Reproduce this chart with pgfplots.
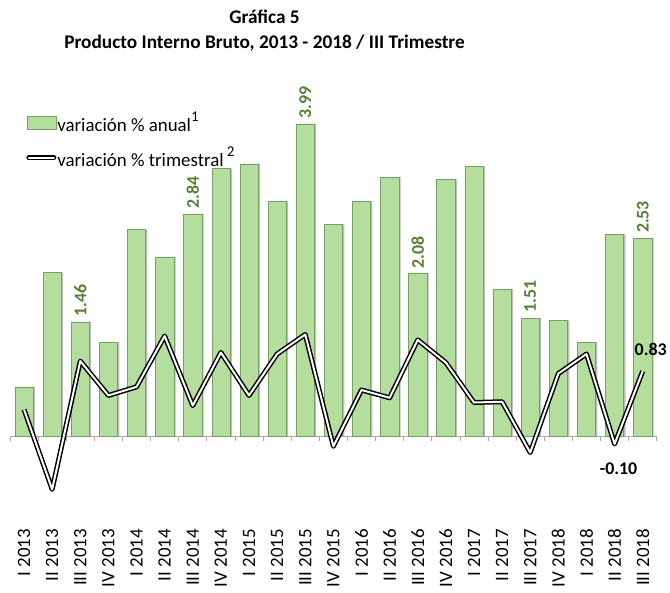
\documentclass[border=0pt]{standalone}
\usepackage{fontspec}
\setmainfont{Carlito}
\usepackage{pgfplots}
\pgfplotsset{compat=1.18}
\definecolor{barfill}{RGB}{181,222,158}
\definecolor{baredge}{RGB}{120,160,100}
\definecolor{lblgreen}{RGB}{84,130,53}
\definecolor{zeroline}{RGB}{170,170,170}

\begin{document}
\begin{tikzpicture}
\path (0,0) rectangle (670bp,586bp);
\node[align=center, font=\bfseries\fontsize{19.4}{25}\selectfont] at (265bp,555.5bp)
  {Gráfica 5\\Producto Interno Bruto, 2013 - 2018 / III Trimestre};
\begin{axis}[
  at={(10bp,61.2bp)}, anchor=south west,
  scale only axis, width=648bp, height=417.1bp,
  xmin=-0.5, xmax=22.5, ymin=-1.12, ymax=4.2,
  axis line style={draw=none}, tick style={draw=none},
  ytick=\empty,
  xtick={0,...,22},
  xticklabels={I 2013,II 2013,III 2013,IV 2013,I 2014,II 2014,III 2014,IV 2014,
    I 2015,II 2015,III 2015,IV 2015,I 2016,II 2016,III 2016,IV 2016,
    I 2017,II 2017,III 2017,IV 2018,I 2018,II 2018,III 2018},
  xticklabel style={rotate=90, anchor=east, font=\fontsize{19}{22}\selectfont, inner sep=5bp},
  clip=false,
  legend style={at={(0.025,0.992)}, anchor=north west, draw=none, fill=none,
    font=\fontsize{19}{22}\selectfont, row sep=12bp, inner sep=0pt,
    nodes={inner sep=1bp}},
  legend cell align=left,
]
\draw[zeroline, line width=0.8bp] (axis cs:-0.5,0) -- (axis cs:22.5,0);
\pgfplotsinvokeforeach{-0.5,0.5,1.5,2.5,3.5,4.5,5.5,6.5,7.5,8.5,9.5,10.5,11.5,
  12.5,13.5,14.5,15.5,16.5,17.5,18.5,19.5,20.5,21.5,22.5}{
  \draw[zeroline, line width=0.8bp] (axis cs:#1,0) -- (axis cs:#1,-0.065);
}
% shadow of the bars
\addplot[ybar, bar width=18.3bp, bar shift=1.8bp, fill=black!25, draw=none, forget plot]
  coordinates {
  (0,0.63) (1,2.09) (2,1.46) (3,1.20) (4,2.64) (5,2.29) (6,2.84) (7,3.42)
  (8,3.48) (9,3.00) (10,3.99) (11,2.71) (12,3.00) (13,3.31) (14,2.08) (15,3.28)
  (16,3.45) (17,1.88) (18,1.51) (19,1.48) (20,1.20) (21,2.58) (22,2.53)
};
\addplot[ybar, bar width=18.3bp, bar shift=0pt, fill=barfill, draw=baredge, line width=0.5bp,
  legend image code/.code={\draw[fill=barfill, draw=baredge, line width=0.5bp]
    (0bp,-6.5bp) rectangle (29bp,6.5bp);}]
  coordinates {
  (0,0.63) (1,2.09) (2,1.46) (3,1.20) (4,2.64) (5,2.29) (6,2.84) (7,3.42)
  (8,3.48) (9,3.00) (10,3.99) (11,2.71) (12,3.00) (13,3.31) (14,2.08) (15,3.28)
  (16,3.45) (17,1.88) (18,1.51) (19,1.48) (20,1.20) (21,2.58) (22,2.53)
};
\addlegendentry{variación \% anual\raisebox{1.1ex}{\fontsize{15}{15}\selectfont 1}}
\addplot[black, line width=1.5bp, double=white, double distance=2bp, line join=round, mark=none,
  legend image code/.code={\draw[black, line width=1.5bp, double=white, double distance=2bp, line cap=round]
    (2bp,0bp) -- (27bp,0bp);}]
  coordinates {
  (0,0.34) (1,-0.68) (2,0.96) (3,0.52) (4,0.63) (5,1.28) (6,0.39) (7,1.07)
  (8,0.52) (9,1.05) (10,1.30) (11,-0.13) (12,0.59) (13,0.49) (14,1.23) (15,0.94)
  (16,0.43) (17,0.44) (18,-0.21) (19,0.80) (20,1.05) (21,-0.10) (22,0.83)
};
\addlegendentry{variación \% trimestral\,\raisebox{1.1ex}{\fontsize{15}{15}\selectfont 2}}
% labels
\addplot[only marks, mark=none, forget plot, point meta=explicit symbolic,
  nodes near coords,
  every node near coord/.append style={rotate=90, anchor=west, text=lblgreen,
    font=\bfseries\fontsize{18}{20}\selectfont, inner sep=5bp}]
  coordinates {(2,1.46) [1.46] (6,2.84) [2.84] (10,3.99) [3.99]
    (14,2.08) [2.08] (18,1.51) [1.51] (22,2.53) [2.53]};
\addplot[only marks, mark=none, forget plot, point meta=explicit symbolic,
  nodes near coords,
  every node near coord/.append style={anchor=center, xshift=8bp, yshift=22bp,
    font=\bfseries\fontsize{18}{20}\selectfont}]
  coordinates {(22,0.83) [0.83]};
\addplot[only marks, mark=none, forget plot, point meta=explicit symbolic,
  nodes near coords,
  every node near coord/.append style={anchor=center, xshift=4bp, yshift=-25bp,
    font=\bfseries\fontsize{18}{20}\selectfont}]
  coordinates {(21,-0.10) [-0.10]};
\end{axis}
\end{tikzpicture}
\end{document}
